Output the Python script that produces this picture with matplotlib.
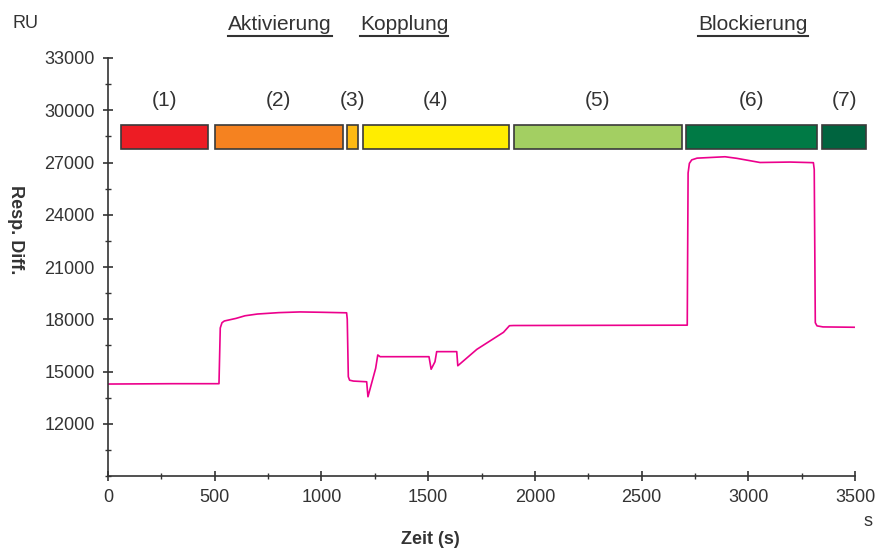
import matplotlib
matplotlib.use("Agg")
import matplotlib.pyplot as plt
from matplotlib.lines import Line2D
from matplotlib.ticker import MultipleLocator

plt.rcParams['font.family'] = ['Liberation Sans', 'DejaVu Sans']

# sensorgram trace (time in s, response in RU)
zeit = [0, 300, 520, 526, 534, 545, 600, 642, 700, 800, 900, 1000, 1118, 1121,
        1126, 1132, 1150, 1212, 1218, 1254, 1264, 1275, 1504, 1514, 1532, 1540,
        1634, 1639, 1728, 1853, 1881, 1900, 2300, 2714, 2718, 2724, 2735, 2760,
        2891, 2946, 3055, 3196, 3305, 3309, 3314, 3322, 3350, 3496]
resp = [14280, 14300, 14300, 17500, 17800, 17900, 18050, 18200, 18300, 18380,
        18420, 18400, 18370, 18000, 14700, 14500, 14450, 14410, 13550, 15180,
        15950, 15850, 15850, 15130, 15560, 16140, 16140, 15330, 16270, 17250,
        17630, 17640, 17650, 17660, 26400, 26950, 27150, 27250, 27330, 27240,
        27000, 27025, 26990, 26600, 17800, 17620, 17560, 17540]

# injection phases
phase_labels = ['(1)', '(2)', '(3)', '(4)', '(5)', '(6)', '(7)']
phase_start = [61, 501, 1120, 1193, 1901, 2710, 3347]
phase_end = [469, 1100, 1173, 1879, 2690, 3321, 3552]
phase_colors = ['#ED1C24', '#F58220', '#FDB913', '#FFED00', '#A3CF62', '#007A45', '#00643F']
bar_lo, bar_hi = 27750, 29150

headers = ['Aktivierung', 'Kopplung', 'Blockierung']
header_x = [280, 404, 753]  # pixel centres

grey = '#333333'

fig = plt.figure(figsize=(8.77, 5.49), dpi=100)
ax = fig.add_axes([108 / 877, 73 / 549, 747 / 877, 418 / 549])

ax.plot(zeit, resp, color='#EC008C', lw=1.2)

for s, e, c, lab in zip(phase_start, phase_end, phase_colors, phase_labels):
    ax.bar(s, bar_hi - bar_lo, width=e - s, bottom=bar_lo, align='edge',
           color=c, edgecolor='#3a3a3a', lw=1.2, clip_on=False, zorder=3)
    ax.text((s + e) / 2, 30550, lab, ha='center', va='center',
            fontsize=15, color=grey, clip_on=False)

ax.set_xlim(0, 3500)
ax.set_ylim(9000, 33000)
ax.set_xticks(range(0, 3501, 500))
ax.set_yticks(range(12000, 33001, 3000))
ax.xaxis.set_minor_locator(MultipleLocator(250))
ax.yaxis.set_minor_locator(MultipleLocator(1500))
ax.tick_params(which='major', direction='inout', length=7, width=1.2,
               color=grey, labelcolor=grey, labelsize=13, pad=6)
ax.tick_params(which='minor', direction='inout', length=4, width=1, color=grey)
for side in ['top', 'right']:
    ax.spines[side].set_visible(False)
for side in ['left', 'bottom']:
    ax.spines[side].set_color(grey)
    ax.spines[side].set_linewidth(1.2)

fig.text(25 / 877, 1 - 24 / 549, 'RU', ha='center', va='center', fontsize=13, color=grey)
fig.text(15 / 877, 1 - 230 / 549, 'Resp. Diff.', ha='center', va='center',
         fontsize=13, fontweight='bold', rotation=270, color=grey)
fig.text(430 / 877, 1 - 540 / 549, 'Zeit (s)', ha='center', va='center',
         fontsize=13, fontweight='bold', color=grey)
fig.text(868 / 877, 1 - 522 / 549, 's', ha='center', va='center', fontsize=13, color=grey)

# underlined section headers
head_texts = [fig.text(x / 877, 1 - 24 / 549, h, ha='center', va='center',
                       fontsize=15, color=grey) for h, x in zip(headers, header_x)]
fig.canvas.draw()
r = fig.canvas.get_renderer()
for t in head_texts:
    bb = t.get_window_extent(r)
    yl = (549 - 36) / 549
    fig.add_artist(Line2D([bb.x0 / 877, bb.x1 / 877], [yl, yl],
                          transform=fig.transFigure, color=grey, lw=1.5))

fig.savefig('out.png', dpi=100)
